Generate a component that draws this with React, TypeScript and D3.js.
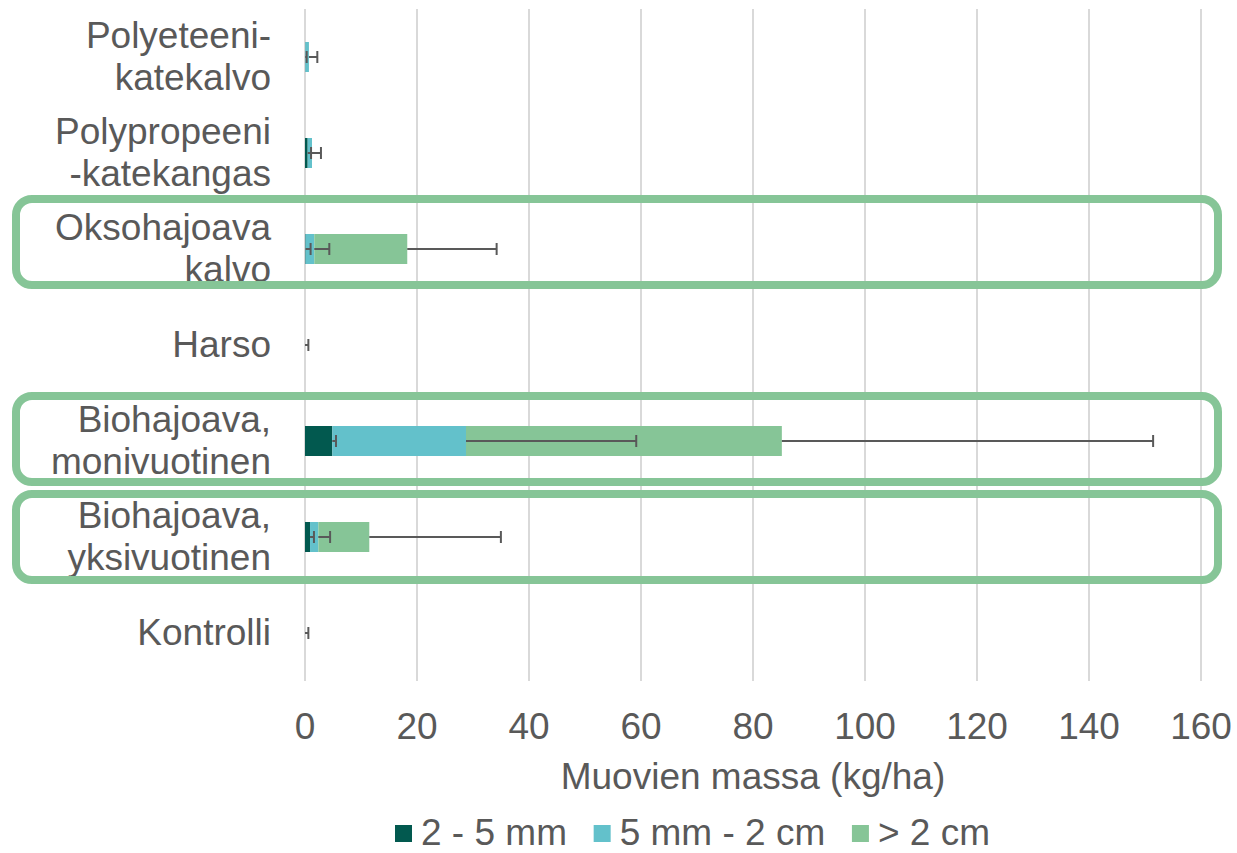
import { useEffect, useRef } from 'react'
import * as d3 from 'd3'

const categories = [
  'Polyeteeni-katekalvo',
  'Polypropeeni-katekangas',
  'Oksohajoava kalvo',
  'Harso',
  'Biohajoava, monivuotinen',
  'Biohajoava, yksivuotinen',
  'Kontrolli'
]
const categoryLines = [
  ['Polyeteeni-', 'katekalvo'],
  ['Polypropeeni', '-katekangas'],
  ['Oksohajoava', 'kalvo'],
  ['Harso'],
  ['Biohajoava,', 'monivuotinen'],
  ['Biohajoava,', 'yksivuotinen'],
  ['Kontrolli']
]

const seriesNames = ['2 - 5 mm', '5 mm - 2 cm', '> 2 cm']
const small = [0.05, 0.48, 0.1, 0, 4.88, 0.9, 0]
const smallErr = [0.25, 0.6, 0.9, 0.6, 0.66, 0.7, 0.6]
const medium = [0.65, 0.77, 1.56, 0, 23.87, 1.48, 0]
const mediumErr = [1.5, 1.6, 2.68, 0, 30.4, 2.1, 0]
const large = [0, 0, 16.6, 0, 56.4, 9.1, 0]
const largeErr = [0, 0, 15.96, 0, 66.3, 23.5, 0]

const ticks = [0, 20, 40, 60, 80, 100, 120, 140, 160]
const highlighted = ['Oksohajoava kalvo', 'Biohajoava, monivuotinen', 'Biohajoava, yksivuotinen']

const COLORS = ['#02594F', '#63C1CB', '#86C597']
const TEXT = '#595959'
const FONT = '"Liberation Sans", Arial, sans-serif'
const FS = 37

export default function App() {
  const svgRef = useRef<SVGSVGElement>(null)

  useEffect(() => {
    const W = 1237
    const H = 853
    const svg = d3.select(svgRef.current)
    svg.selectAll('*').remove()
    svg.attr('width', W).attr('height', H)

    const x = d3.scaleLinear().domain([0, 160]).range([305, 1201])
    const y = d3.scaleBand().domain(categories).range([9, 681])
      .paddingInner(0.6875).paddingOuter(0.34375)

    // gridlines
    svg.append('g').selectAll('line')
      .data(ticks)
      .join('line')
      .attr('x1', d => x(d)).attr('x2', d => x(d))
      .attr('y1', 9).attr('y2', 681)
      .attr('stroke', '#D9D9D9').attr('stroke-width', 2)

    const vals = [small, medium, large]
    const errs = [smallErr, mediumErr, largeErr]
    const rows = categories.map((c, i) => {
      let cum = 0
      return vals.map((v, s) => {
        const start = cum
        cum += v[i]
        return { cat: c, s, start, end: cum, err: errs[s][i] }
      })
    })

    const bars = svg.append('g')
    rows.flat().filter(d => d.end > d.start).forEach(d => {
      bars.append('rect')
        .attr('x', x(d.start))
        .attr('y', y(d.cat)!)
        .attr('width', x(d.end) - x(d.start))
        .attr('height', y.bandwidth())
        .attr('fill', COLORS[d.s])
    })

    // error bars (plus side, from the end of each stacked segment)
    const eb = svg.append('g').attr('stroke', TEXT).attr('stroke-width', 2)
    rows.flat().filter(d => d.err > 0).forEach(d => {
      const cy = y(d.cat)! + y.bandwidth() / 2
      const x0 = x(d.end)
      const x1 = x(d.end + d.err)
      eb.append('line').attr('x1', x0).attr('x2', x1).attr('y1', cy).attr('y2', cy)
      eb.append('line').attr('x1', x1).attr('x2', x1).attr('y1', cy - 6).attr('y2', cy + 6)
    })

    // category labels
    const lab = svg.append('g')
      .attr('font-family', FONT).attr('font-size', FS).attr('fill', TEXT)
      .attr('text-anchor', 'end')
    categories.forEach((c, i) => {
      const cy = y(c)! + y.bandwidth() / 2
      const lines = categoryLines[i]
      lines.forEach((t, j) => {
        const off = lines.length === 1 ? 0 : (j === 0 ? -21 : 21)
        lab.append('text')
          .attr('x', 271)
          .attr('y', cy + off - 1)
          .attr('dominant-baseline', 'central')
          .text(t)
      })
    })

    // tick labels
    svg.append('g').selectAll('text')
      .data(ticks)
      .join('text')
      .attr('x', d => x(d))
      .attr('y', 739)
      .attr('text-anchor', 'middle')
      .attr('font-family', FONT).attr('font-size', FS).attr('fill', TEXT)
      .text(d => d)

    svg.append('text')
      .attr('x', (x(0) + x(160)) / 2)
      .attr('y', 789)
      .attr('text-anchor', 'middle')
      .attr('font-family', FONT).attr('font-size', FS).attr('fill', TEXT)
      .text('Muovien massa (kg/ha)')

    // highlight boxes
    const boxShift: Record<string, number> = {
      'Oksohajoava kalvo': -7,
      'Biohajoava, monivuotinen': -2,
      'Biohajoava, yksivuotinen': 0
    }
    svg.append('g').selectAll('rect')
      .data(highlighted)
      .join('rect')
      .attr('x', 16)
      .attr('y', d => y(d)! + y.bandwidth() / 2 - 43 + boxShift[d])
      .attr('width', 1202)
      .attr('height', 86)
      .attr('rx', 16)
      .attr('fill', 'none')
      .attr('stroke', '#86C597')
      .attr('stroke-width', 8)

    // legend, spread from x=395 to x=990
    const leg = svg.append('g')
    const items = seriesNames.map((name, i) => {
      const g = leg.append('g')
      g.append('rect').attr('x', 0).attr('y', 825).attr('width', 17).attr('height', 17).attr('fill', COLORS[i])
      const t = g.append('text')
        .attr('x', 26).attr('y', 845)
        .attr('font-family', FONT).attr('font-size', FS).attr('fill', TEXT)
        .text(name)
      const w = (t.node() as SVGTextElement).getComputedTextLength()
      return { g, w: 26 + w }
    })
    const used = d3.sum(items, d => d.w)
    const gap = (990 - 395 - used) / (items.length - 1)
    let lx = 395
    items.forEach(it => {
      it.g.attr('transform', `translate(${lx},0)`)
      lx += it.w + gap
    })
  }, [])

  return (
    <svg ref={svgRef} style={{ position: 'absolute', left: 0, top: 0, background: '#fff' }} />
  )
}
